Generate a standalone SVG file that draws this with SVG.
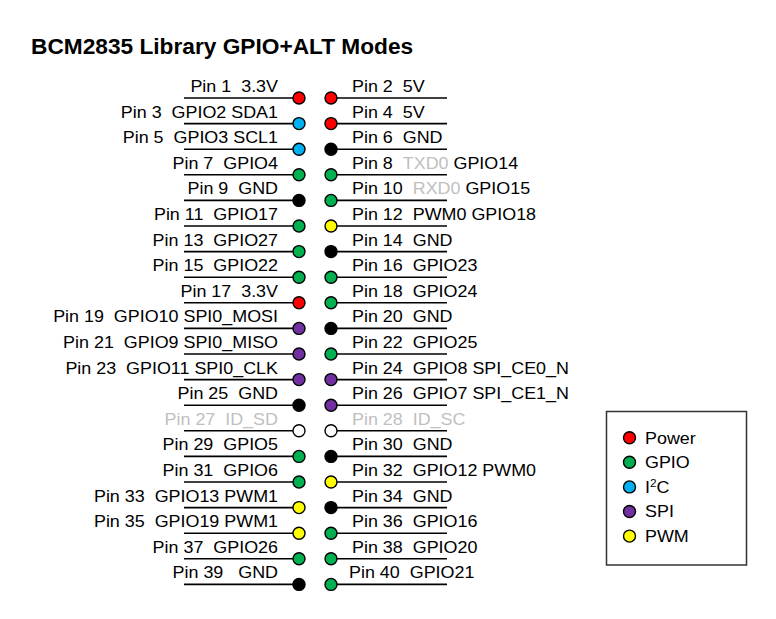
<svg xmlns="http://www.w3.org/2000/svg" width="776" height="619" viewBox="0 0 776 619">
<style>
.ln{stroke:#000;stroke-width:1.6;fill:none}
.c{stroke:#000;stroke-width:1.4}
.pw{fill:#ff0000}.gp{fill:#00b050}.i2{fill:#00b0f0}.sp{fill:#7030a0}.pm{fill:#ffff00}.gn{fill:#000}.nc{fill:#fff}
text{font-family:"Liberation Sans",Arial,sans-serif;font-size:16px;fill:#000;white-space:pre}
.l{text-anchor:end}
.dim{fill:#bfbfbf}
.title{font-size:22.7px;font-weight:bold}
</style>
<rect width="776" height="619" fill="#fff"/>
<text class="title" x="31" y="53.5">BCM2835 Library GPIO+ALT Modes</text>
<g id="connectors">
<g id="left-lines">
<line class="ln" x1="184" y1="98" x2="299" y2="98"/>
<line class="ln" x1="184" y1="123.6" x2="299" y2="123.6"/>
<line class="ln" x1="184" y1="149.2" x2="299" y2="149.2"/>
<line class="ln" x1="184" y1="174.8" x2="299" y2="174.8"/>
<line class="ln" x1="184" y1="200.4" x2="299" y2="200.4"/>
<line class="ln" x1="184" y1="226" x2="299" y2="226"/>
<line class="ln" x1="184" y1="251.6" x2="299" y2="251.6"/>
<line class="ln" x1="184" y1="277.2" x2="299" y2="277.2"/>
<line class="ln" x1="184" y1="302.8" x2="299" y2="302.8"/>
<line class="ln" x1="184" y1="328.4" x2="299" y2="328.4"/>
<line class="ln" x1="184" y1="354" x2="299" y2="354"/>
<line class="ln" x1="184" y1="379.6" x2="299" y2="379.6"/>
<line class="ln" x1="184" y1="405.2" x2="299" y2="405.2"/>
<line class="ln" x1="184" y1="430.8" x2="299" y2="430.8"/>
<line class="ln" x1="184" y1="456.4" x2="299" y2="456.4"/>
<line class="ln" x1="184" y1="482" x2="299" y2="482"/>
<line class="ln" x1="184" y1="507.6" x2="299" y2="507.6"/>
<line class="ln" x1="184" y1="533.2" x2="299" y2="533.2"/>
<line class="ln" x1="184" y1="558.8" x2="299" y2="558.8"/>
<line class="ln" x1="184" y1="584.4" x2="299" y2="584.4"/>
</g>
<g id="right-lines">
<line class="ln" x1="331" y1="98" x2="447" y2="98"/>
<line class="ln" x1="331" y1="123.6" x2="447" y2="123.6"/>
<line class="ln" x1="331" y1="149.2" x2="447" y2="149.2"/>
<line class="ln" x1="331" y1="174.8" x2="447" y2="174.8"/>
<line class="ln" x1="331" y1="200.4" x2="447" y2="200.4"/>
<line class="ln" x1="331" y1="226" x2="447" y2="226"/>
<line class="ln" x1="331" y1="251.6" x2="447" y2="251.6"/>
<line class="ln" x1="331" y1="277.2" x2="447" y2="277.2"/>
<line class="ln" x1="331" y1="302.8" x2="447" y2="302.8"/>
<line class="ln" x1="331" y1="328.4" x2="447" y2="328.4"/>
<line class="ln" x1="331" y1="354" x2="447" y2="354"/>
<line class="ln" x1="331" y1="379.6" x2="447" y2="379.6"/>
<line class="ln" x1="331" y1="405.2" x2="447" y2="405.2"/>
<line class="ln" x1="331" y1="430.8" x2="447" y2="430.8"/>
<line class="ln" x1="331" y1="456.4" x2="447" y2="456.4"/>
<line class="ln" x1="331" y1="482" x2="447" y2="482"/>
<line class="ln" x1="331" y1="507.6" x2="447" y2="507.6"/>
<line class="ln" x1="331" y1="533.2" x2="447" y2="533.2"/>
<line class="ln" x1="331" y1="558.8" x2="447" y2="558.8"/>
<line class="ln" x1="331" y1="584.4" x2="447" y2="584.4"/>
</g>
</g>
<g id="pin1"><circle class="c pw" cx="299" cy="98" r="6"/><text class="l" xml:space="preserve" transform="translate(278 92) scale(1.12 1)">Pin 1  3.3V</text></g>
<g id="pin3"><circle class="c i2" cx="299" cy="123.6" r="6"/><text class="l" xml:space="preserve" transform="translate(278 117.6) scale(1.12 1)">Pin 3  GPIO2 SDA1</text></g>
<g id="pin5"><circle class="c i2" cx="299" cy="149.2" r="6"/><text class="l" xml:space="preserve" transform="translate(278 143.2) scale(1.12 1)">Pin 5  GPIO3 SCL1</text></g>
<g id="pin7"><circle class="c gp" cx="299" cy="174.8" r="6"/><text class="l" xml:space="preserve" transform="translate(278 168.8) scale(1.12 1)">Pin 7  GPIO4</text></g>
<g id="pin9"><circle class="c gn" cx="299" cy="200.4" r="6"/><text class="l" xml:space="preserve" transform="translate(278 194.4) scale(1.12 1)">Pin 9  GND</text></g>
<g id="pin11"><circle class="c gp" cx="299" cy="226" r="6"/><text class="l" xml:space="preserve" transform="translate(278 220) scale(1.12 1)">Pin 11  GPIO17</text></g>
<g id="pin13"><circle class="c gp" cx="299" cy="251.6" r="6"/><text class="l" xml:space="preserve" transform="translate(278 245.6) scale(1.12 1)">Pin 13  GPIO27</text></g>
<g id="pin15"><circle class="c gp" cx="299" cy="277.2" r="6"/><text class="l" xml:space="preserve" transform="translate(278 271.2) scale(1.12 1)">Pin 15  GPIO22</text></g>
<g id="pin17"><circle class="c pw" cx="299" cy="302.8" r="6"/><text class="l" xml:space="preserve" transform="translate(278 296.8) scale(1.12 1)">Pin 17  3.3V</text></g>
<g id="pin19"><circle class="c sp" cx="299" cy="328.4" r="6"/><text class="l" xml:space="preserve" transform="translate(278 322.4) scale(1.12 1)">Pin 19  GPIO10 SPI0_MOSI</text></g>
<g id="pin21"><circle class="c sp" cx="299" cy="354" r="6"/><text class="l" xml:space="preserve" transform="translate(278 348) scale(1.12 1)">Pin 21  GPIO9 SPI0_MISO</text></g>
<g id="pin23"><circle class="c sp" cx="299" cy="379.6" r="6"/><text class="l" xml:space="preserve" transform="translate(278 373.6) scale(1.12 1)">Pin 23  GPIO11 SPI0_CLK</text></g>
<g id="pin25"><circle class="c gn" cx="299" cy="405.2" r="6"/><text class="l" xml:space="preserve" transform="translate(278 399.2) scale(1.12 1)">Pin 25  GND</text></g>
<g id="pin27"><circle class="c nc" cx="299" cy="430.8" r="6"/><text class="l dim" xml:space="preserve" transform="translate(278 424.8) scale(1.12 1)">Pin 27  ID_SD</text></g>
<g id="pin29"><circle class="c gp" cx="299" cy="456.4" r="6"/><text class="l" xml:space="preserve" transform="translate(278 450.4) scale(1.12 1)">Pin 29  GPIO5</text></g>
<g id="pin31"><circle class="c gp" cx="299" cy="482" r="6"/><text class="l" xml:space="preserve" transform="translate(278 476) scale(1.12 1)">Pin 31  GPIO6</text></g>
<g id="pin33"><circle class="c pm" cx="299" cy="507.6" r="6"/><text class="l" xml:space="preserve" transform="translate(278 501.6) scale(1.12 1)">Pin 33  GPIO13 PWM1</text></g>
<g id="pin35"><circle class="c pm" cx="299" cy="533.2" r="6"/><text class="l" xml:space="preserve" transform="translate(278 527.2) scale(1.12 1)">Pin 35  GPIO19 PWM1</text></g>
<g id="pin37"><circle class="c gp" cx="299" cy="558.8" r="6"/><text class="l" xml:space="preserve" transform="translate(278 552.8) scale(1.12 1)">Pin 37  GPIO26</text></g>
<g id="pin39"><circle class="c gn" cx="299" cy="584.4" r="6"/><text class="l" xml:space="preserve" transform="translate(278 578.4) scale(1.12 1)">Pin 39   GND</text></g>
<g id="pin2"><circle class="c pw" cx="331" cy="98" r="6"/><text xml:space="preserve" transform="translate(352 92) scale(1.12 1)">Pin 2  5V</text></g>
<g id="pin4"><circle class="c pw" cx="331" cy="123.6" r="6"/><text xml:space="preserve" transform="translate(352 117.6) scale(1.12 1)">Pin 4  5V</text></g>
<g id="pin6"><circle class="c gn" cx="331" cy="149.2" r="6"/><text xml:space="preserve" transform="translate(352 143.2) scale(1.12 1)">Pin 6  GND</text></g>
<g id="pin8"><circle class="c gp" cx="331" cy="174.8" r="6"/><text xml:space="preserve" transform="translate(352 168.8) scale(1.12 1)">Pin 8  <tspan class="dim">TXD0</tspan> GPIO14</text></g>
<g id="pin10"><circle class="c gp" cx="331" cy="200.4" r="6"/><text xml:space="preserve" transform="translate(352 194.4) scale(1.12 1)">Pin 10  <tspan class="dim">RXD0</tspan> GPIO15</text></g>
<g id="pin12"><circle class="c pm" cx="331" cy="226" r="6"/><text xml:space="preserve" transform="translate(352 220) scale(1.12 1)">Pin 12  PWM0 GPIO18</text></g>
<g id="pin14"><circle class="c gn" cx="331" cy="251.6" r="6"/><text xml:space="preserve" transform="translate(352 245.6) scale(1.12 1)">Pin 14  GND</text></g>
<g id="pin16"><circle class="c gp" cx="331" cy="277.2" r="6"/><text xml:space="preserve" transform="translate(352 271.2) scale(1.12 1)">Pin 16  GPIO23</text></g>
<g id="pin18"><circle class="c gp" cx="331" cy="302.8" r="6"/><text xml:space="preserve" transform="translate(352 296.8) scale(1.12 1)">Pin 18  GPIO24</text></g>
<g id="pin20"><circle class="c gn" cx="331" cy="328.4" r="6"/><text xml:space="preserve" transform="translate(352 322.4) scale(1.12 1)">Pin 20  GND</text></g>
<g id="pin22"><circle class="c gp" cx="331" cy="354" r="6"/><text xml:space="preserve" transform="translate(352 348) scale(1.12 1)">Pin 22  GPIO25</text></g>
<g id="pin24"><circle class="c sp" cx="331" cy="379.6" r="6"/><text xml:space="preserve" transform="translate(352 373.6) scale(1.12 1)">Pin 24  GPIO8 SPI_CE0_N</text></g>
<g id="pin26"><circle class="c sp" cx="331" cy="405.2" r="6"/><text xml:space="preserve" transform="translate(352 399.2) scale(1.12 1)">Pin 26  GPIO7 SPI_CE1_N</text></g>
<g id="pin28"><circle class="c nc" cx="331" cy="430.8" r="6"/><text class="dim" xml:space="preserve" transform="translate(352 424.8) scale(1.12 1)">Pin 28  ID_SC</text></g>
<g id="pin30"><circle class="c gn" cx="331" cy="456.4" r="6"/><text xml:space="preserve" transform="translate(352 450.4) scale(1.12 1)">Pin 30  GND</text></g>
<g id="pin32"><circle class="c pm" cx="331" cy="482" r="6"/><text xml:space="preserve" transform="translate(352 476) scale(1.12 1)">Pin 32  GPIO12 PWM0</text></g>
<g id="pin34"><circle class="c gn" cx="331" cy="507.6" r="6"/><text xml:space="preserve" transform="translate(352 501.6) scale(1.12 1)">Pin 34  GND</text></g>
<g id="pin36"><circle class="c gp" cx="331" cy="533.2" r="6"/><text xml:space="preserve" transform="translate(352 527.2) scale(1.12 1)">Pin 36  GPIO16</text></g>
<g id="pin38"><circle class="c gp" cx="331" cy="558.8" r="6"/><text xml:space="preserve" transform="translate(352 552.8) scale(1.12 1)">Pin 38  GPIO20</text></g>
<g id="pin40"><circle class="c gp" cx="331" cy="584.4" r="6"/><text xml:space="preserve" transform="translate(349 578.4) scale(1.12 1)">Pin 40  GPIO21</text></g>
<g id="legend">
<rect x="606.5" y="411.5" width="140" height="153.5" fill="#fff" stroke="#333" stroke-width="1.5"/>
<circle class="c pw" cx="629.5" cy="437.7" r="6"/>
<text transform="translate(645 443.5) scale(1.12 1)">Power</text>
<circle class="c gp" cx="629.5" cy="462.3" r="6"/>
<text transform="translate(645 468.1) scale(1.12 1)">GPIO</text>
<circle class="c i2" cx="629.5" cy="486.9" r="6"/>
<text transform="translate(645 492.7) scale(1.12 1)">I<tspan font-size="10.5" dy="-6">2</tspan><tspan dy="6">C</tspan></text>
<circle class="c sp" cx="629.5" cy="511.5" r="6"/>
<text transform="translate(645 517.3) scale(1.12 1)">SPI</text>
<circle class="c pm" cx="629.5" cy="536.1" r="6"/>
<text transform="translate(645 541.9) scale(1.12 1)">PWM</text>
</g>
</svg>
